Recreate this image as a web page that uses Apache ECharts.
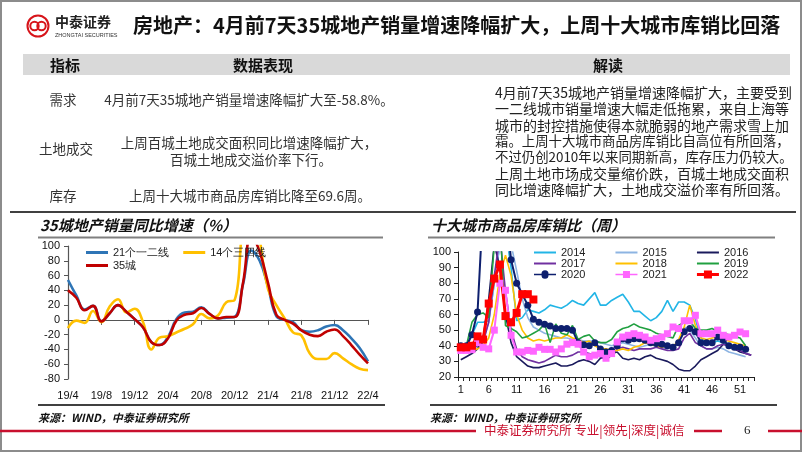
<!DOCTYPE html>
<html><head><meta charset="utf-8">
<script src="https://cdn.jsdelivr.net/npm/echarts@6/dist/echarts.min.js"></script>
<style>html,body{margin:0;padding:0;background:#fff}#c{width:802px;height:452px}</style>
</head><body><div id="c"></div><script>
// ---------- left chart data ----------
const months = ['19/4','19/5','19/6','19/7','19/8','19/9','19/10','19/11','19/12','20/1','20/2','20/3','20/4','20/5','20/6','20/7','20/8','20/9','20/10','20/11','20/12','21/1','21/2','21/3','21/4','21/5','21/6','21/7','21/8','21/9','21/10','21/11','21/12','22/1','22/2','22/3','22/4'];
const tier12 = [54,33,14,19,-2,9,20,11,1,-10,-30,-34,-23,1,10,11,17,8,2,3,4,48,94,80,45,5,0,-3,-14,-16,-14,-9,-7,-14,-25,-38,-56];
const tier34 = [-11,-1,-4,12,-3,18,28,10,15,-3,-40,-24,-22,-17,-12,-6,8,2,6,24,27,130,180,110,42,20,2,-17,-21,-45,-53,-53,-45,-52,-60,-66,-68];
const city35 = [40,30,13,19,-2,9,20,11,1,-10,-30,-34,-25,-1,7,9,16,8,2,4,4,50,115,92,50,7,0,-5,-14,-20,-22,-16,-13,-22,-34,-47,-58.8];
// ---------- right chart data ----------
const weeks = [1,2,3,4,5,6,7,8,9,10,11,12,13,14,15,16,17,18,19,20,21,22,23,24,25,26,27,28,29,30,31,32,33,34,35,36,37,38,39,40,41,42,43,44,45,46,47,48,49,50,51,52,53];
const y2014 = [40,39,47,55,55,56,80,105,115,90,56,58,63,62,61,63,66,65,64,66,69,67,66,70,74,66,66,69,71,73,68,62,62,59,56,58,62,69,62,68,68,66,57,45,42,42,43,42,40,40,38,37,null];
const y2015 = [40,38,37,40,44,55,80,105,120,105,88,70,58,52,50,48,47,46,45,45,44,44,43,43,43,42,41,40,41,42,41,40,39,40,41,40,39,38,40,42,52,50,45,40,38,38,39,38,36,35,34,33,null];
const y2016 = [31,33,35,38,45,70,105,90,60,42,33,30,27,26,26,27,28,29,27,27,28,30,31,30,28,32,33,35,36,32,31,32,31,33,34,32,31,30,28,25,24,24,27,31,33,35,37,41,40,38,36,35,34];
const y2017 = [36,37,38,40,42,55,85,110,75,50,38,33,31,30,29,30,32,34,33,33,34,36,36,35,34,33,31,34,38,39,38,37,38,38,38,39,38,37,37,38,45,48,42,40,38,38,40,41,40,38,37,35,34];
const y2018 = [38,38,37,38,40,45,60,85,98,85,60,50,45,43,44,43,44,45,45,47,45,44,42,43,40,38,38,37,37,38,37,39,40,42,41,40,39,40,39,44,52,66,53,45,44,45,46,44,43,42,41,40,null];
const y2019 = [40,40,55,60,61,58,105,120,53,51,49,45,46,48,50,54,42,54,48,47,53,44,46,47,43,42,42,44,49,51,52,54,52,51,50,48,47,46,45,53,55,56,51,50,50,51,49,48,47,46,45,40,null];
const y2020 = [40,40,47,61.6,130,180,200,180,130,95,80,73,66,57,55,53.7,52.6,51,51,51,50,42,40.7,40,42,38,36,37,40,44.5,43.5,44.5,44.5,43.5,42,41.5,41,40,39,42,49,51,49,42,42,42,45.6,43.5,40,39,39,37.7,null];
const y2021 = [37,37,37.5,42,39,38,50,80,75.5,46.7,36,36,37,36.5,39,37.7,37.7,36,38,41,42,41,36,33,34,35,32,35,42.4,45.6,46.7,47.7,46.7,45.6,43.5,44.5,45.6,47.7,52,51,56,56,59.5,47.7,47.7,47.7,50,46.7,45.6,46.7,48.8,47.7,null];
const y2022 = [39,39,40,46,44,67,83,92,59,55,61,73,73,69.6,null,null,null,null,null,null,null,null,null,null,null,null,null,null,null,null,null,null,null,null,null,null,null,null,null,null,null,null,null,null,null,null,null,null,null,null,null,null,null];
// ---------- texts ----------
const title = '房地产：4月前7天35城地产销量增速降幅扩大，上周十大城市库销比回落';
const readLines = ['4月前7天35城地产销量增速降幅扩大，主要受到','一二线城市销量增速大幅走低拖累，来自上海等','城市的封控措施使得本就脆弱的地产需求雪上加','霜。上周十大城市商品房库销比自高位有所回落，','不过仍创2010年以来同期新高，库存压力仍较大。','上周土地市场成交量缩价跌，百城土地成交面积','同比增速降幅扩大，土地成交溢价率有所回落。'];

const F = '"Noto Sans CJK SC","Noto Sans",sans-serif';
const chart = echarts.init(document.getElementById('c'), null, {renderer:'canvas'});

function T(text, x, y, size, opt) {
  opt = opt || {};
  return {type:'text', silent:true, z:10, style:{text:text, x:x, y:y,
    font:(opt.italic?'italic ':'')+(opt.bold?'bold ':'')+size+'px '+(opt.family||F),
    fill:opt.color||'#222', textAlign:opt.align||'left', textVerticalAlign:'middle', align:opt.align||'left', verticalAlign:'middle'}};
}
function L(x1,y1,x2,y2,color,w){return {type:'line',silent:true,z:5,shape:{x1:x1,y1:y1,x2:x2,y2:y2},style:{stroke:color,lineWidth:w}};}

const graphic = [
  {type:'rect',silent:true,z:1,shape:{x:1,y:1,width:800,height:450},style:{fill:'none',stroke:'#8c8c8c',lineWidth:2}},
  {type:'ring',silent:true,z:5,shape:{cx:38,cy:26,r:11.5,r0:9.5},style:{fill:'#d7141a'}},
  {type:'circle',silent:true,z:5,shape:{cx:34.5,cy:26,r:4.2},style:{fill:'none',stroke:'#d7141a',lineWidth:2}},
  {type:'circle',silent:true,z:5,shape:{cx:41.5,cy:26,r:4.2},style:{fill:'none',stroke:'#d7141a',lineWidth:2}},
  T('中泰证券',55,22,14,{bold:true,color:'#222'}),
  T('ZHONGTAI SECURITIES',55,35,5.5,{color:'#333',family:'"Liberation Sans",sans-serif'}),
  T(title,133,25,20,{bold:true,color:'#111'}),
  {type:'rect',silent:true,z:2,shape:{x:23,y:54,width:767,height:21},style:{fill:'#d9d9d9'}},
  T('指标',65,65,15,{bold:true,align:'center',color:'#111'}),
  T('数据表现',263,65,15,{bold:true,align:'center',color:'#111'}),
  T('解读',608,65,15,{bold:true,align:'center',color:'#111'}),
  T('需求',63,100,13.5,{align:'center',color:'#333'}),
  T('4月前7天35城地产销量增速降幅扩大至-58.8%。',249,100,13.5,{align:'center',color:'#333'}),
  T('土地成交',66,149,13.5,{align:'center',color:'#333'}),
  T('上周百城土地成交面积同比增速降幅扩大，',249,143,13.5,{align:'center',color:'#333'}),
  T('百城土地成交溢价率下行。',251,160,13.5,{align:'center',color:'#333'}),
  T('库存',63,196,13.5,{align:'center',color:'#333'}),
  T('上周十大城市商品房库销比降至69.6周。',250,196,13.5,{align:'center',color:'#333'}),
  L(10,212,796,212,'#404040',2),
  L(38,237.5,383,237.5,'#808080',2),
  L(428,237.5,775,237.5,'#808080',2),
  T('35城地产销量同比增速（%）',40,225,15,{bold:true,italic:true,color:'#111'}),
  T('十大城市商品房库销比（周）',431,225,15,{bold:true,italic:true,color:'#111'}),
  L(38,405,385,405,'#404040',2),
  L(430,405,777,405,'#404040',2),
  T('来源：WIND，中泰证券研究所',38,418,11,{bold:true,italic:true,color:'#111'}),
  T('来源：WIND，中泰证券研究所',430,418,11,{bold:true,italic:true,color:'#111'}),
  L(0,431,476,431,'#c8102e',2.5),
  T('中泰证券研究所 专业|领先|深度|诚信',484,430,12.5,{color:'#c8102e'}),
  L(694,431,722,431,'#c8102e',2.5),
  T('6',744,431,13,{color:'#222',family:'"Liberation Serif",serif'}),
  L(768,431,802,431,'#c8102e',2.5)
];
readLines.forEach(function(s,i){
  const ems = (i===3||i===4)?22:21;
  graphic.push(T(s,495,93+i*16.1,ems===22?13.4:14,{color:'#222'}));
});

const LINE_ICON = 'path://M0,0 L22,0 L22,2 L0,2 Z';
const THICK_ICON = 'path://M0,0 L22,0 L22,3 L0,3 Z';
const CIRCLE_ICON = 'path://M0,2.7 L7.5,2.7 A3.5,3.5 0 0 1 14.5,2.7 L22,2.7 L22,4.3 L14.5,4.3 A3.5,3.5 0 0 1 7.5,4.3 L0,4.3 Z';
const RECT_ICON = 'path://M0,2.7 L7.5,2.7 L7.5,0 L14.5,0 L14.5,2.7 L22,2.7 L22,4.3 L14.5,4.3 L14.5,7 L7.5,7 L7.5,4.3 L0,4.3 Z';
const RECT_ICON2 = 'path://M0,2.5 L7,2.5 L7,0 L15,0 L15,2.5 L22,2.5 L22,5.5 L15,5.5 L15,8 L7,8 L7,5.5 L0,5.5 Z';

const axisTxt = {fontSize:11,color:'#111',fontFamily:'"Liberation Sans",Arial,sans-serif'};
const legTxt = {fontSize:11,color:'#222',fontFamily:'"Liberation Sans",Arial,sans-serif'};
function rs(name,data,color,extra){
  return Object.assign({name:name,type:'line',xAxisIndex:2,yAxisIndex:1,data:data,symbol:'none',
    lineStyle:{width:1.6,color:color},itemStyle:{color:color},connectNulls:false},extra||{});
}
const option = {
  animation:false,
  graphic:graphic,
  grid:[{left:68,top:246,width:300,height:133},{left:458,top:252,width:296,height:125}],
  xAxis:[
    {gridIndex:0,type:'category',data:months,boundaryGap:false,position:'bottom',
      axisLine:{show:false,onZero:false},axisTick:{show:false},axisLabel:Object.assign({interval:3,margin:11},axisTxt),splitLine:{show:false}},
    {gridIndex:0,type:'category',data:months,boundaryGap:false,position:'bottom',
      axisLine:{show:true,onZero:true,lineStyle:{color:'#555',width:1.2}},axisTick:{show:true,interval:3,length:5,lineStyle:{color:'#555'}},axisLabel:{show:false},splitLine:{show:false}},
    {gridIndex:1,type:'category',data:weeks,boundaryGap:true,
      axisLine:{show:true,lineStyle:{color:'#222',width:1}},axisTick:{show:true,interval:0,length:4,lineStyle:{color:'#222'}},
      axisLabel:Object.assign({interval:4,margin:7},axisTxt),splitLine:{show:false}}
  ],
  yAxis:[
    {gridIndex:0,type:'value',min:-80,max:100,interval:20,axisLine:{show:true,lineStyle:{color:'#555',width:1.2}},
      axisTick:{show:true,length:4},axisLabel:Object.assign({margin:8},axisTxt),splitLine:{show:false}},
    {gridIndex:1,type:'value',min:20,max:100,interval:10,axisLine:{show:true,lineStyle:{color:'#222'}},
      axisTick:{show:true,length:4},axisLabel:Object.assign({margin:7},axisTxt),splitLine:{show:false}}
  ],
  legend:[
    {data:[{name:'21个一二线',icon:THICK_ICON},{name:'14个三四线',icon:THICK_ICON}],left:81,top:242,itemWidth:22,itemHeight:10,itemGap:14,textStyle:legTxt},
    {data:[{name:'35城',icon:THICK_ICON}],left:81,top:255,itemWidth:22,itemHeight:10,textStyle:legTxt},
    {data:[{name:'2014',icon:LINE_ICON},{name:'2015',icon:LINE_ICON},{name:'2016',icon:LINE_ICON}],left:529,top:242,itemWidth:22,itemHeight:10,itemGap:30,textStyle:legTxt},
    {data:[{name:'2017',icon:LINE_ICON},{name:'2018',icon:LINE_ICON},{name:'2019',icon:LINE_ICON}],left:529,top:253,itemWidth:22,itemHeight:10,itemGap:30,textStyle:legTxt},
    {data:[{name:'2020',icon:CIRCLE_ICON},{name:'2021',icon:RECT_ICON},{name:'2022',icon:RECT_ICON2}],left:529,top:264,itemWidth:22,itemHeight:10,itemGap:30,textStyle:legTxt}
  ],
  series:[
    {name:'21个一二线',type:'line',xAxisIndex:0,yAxisIndex:0,data:tier12,smooth:0.45,symbol:'none',lineStyle:{width:2.6,color:'#2e75b6'},itemStyle:{color:'#2e75b6'}},
    {name:'14个三四线',type:'line',xAxisIndex:0,yAxisIndex:0,data:tier34,smooth:0.45,symbol:'none',lineStyle:{width:2.6,color:'#ffc000'},itemStyle:{color:'#ffc000'}},
    {name:'35城',type:'line',xAxisIndex:0,yAxisIndex:0,data:city35,smooth:0.45,symbol:'none',lineStyle:{width:2.6,color:'#c00000'},itemStyle:{color:'#c00000'}},
    rs('2014',y2014,'#22b5e6'),
    rs('2015',y2015,'#8db4e2'),
    rs('2016',y2016,'#1a1a5c'),
    rs('2017',y2017,'#7030a0'),
    rs('2018',y2018,'#ffc000'),
    rs('2019',y2019,'#20a040'),
    rs('2020',y2020,'#0d1f6e',{symbol:'circle',symbolSize:7,showSymbol:true,showAllSymbol:true,lineStyle:{width:2,color:'#0d1f6e'}}),
    rs('2021',y2021,'#ff66ff',{symbol:'rect',symbolSize:7,showSymbol:true,showAllSymbol:true,lineStyle:{width:2,color:'#ff66ff'}}),
    rs('2022',y2022,'#ff0000',{symbol:'rect',symbolSize:8,showSymbol:true,showAllSymbol:true,lineStyle:{width:3,color:'#ff0000'}})
  ]
};
chart.setOption(option);
</script></body></html>
